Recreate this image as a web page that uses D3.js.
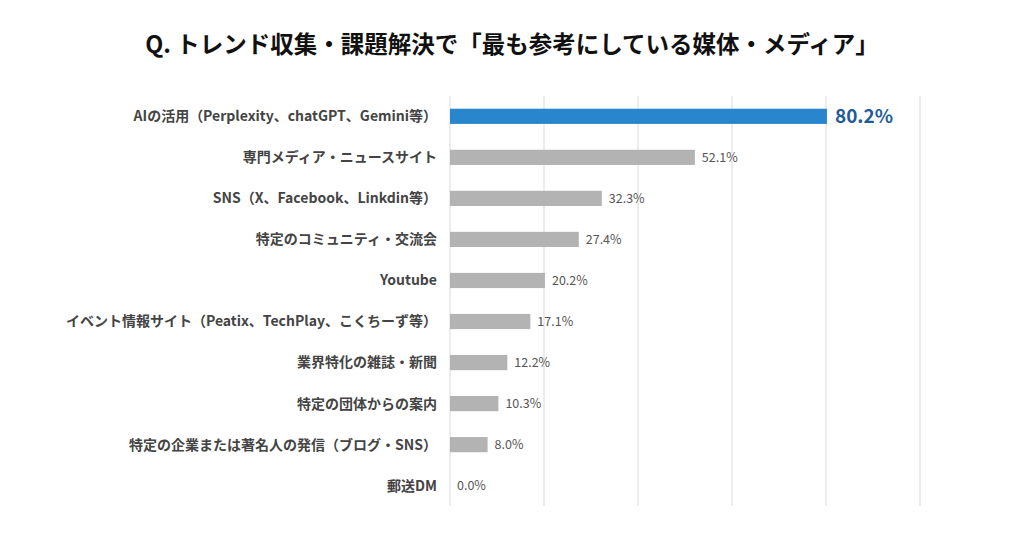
<!DOCTYPE html>
<html><head><meta charset="utf-8">
<script src="https://cdn.jsdelivr.net/npm/d3@7"></script>
<style>body{margin:0;background:#fff}text{font-family:"Noto Sans CJK JP",sans-serif}</style>
</head><body><svg id="c" width="1022" height="537"></svg>
<script>
const categories = ['AIの活用（Perplexity、chatGPT、Gemini等）','専門メディア・ニュースサイト','SNS（X、Facebook、Linkdin等）','特定のコミュニティ・交流会','Youtube','イベント情報サイト（Peatix、TechPlay、こくちーず等）','業界特化の雑誌・新聞','特定の団体からの案内','特定の企業または著名人の発信（ブログ・SNS）','郵送DM'];
const values = [80.2,52.1,32.3,27.4,20.2,17.1,12.2,10.3,8.0,0.0];
const ticks = [0,20,40,60,80,100];

const svg = d3.select('#c');
const x = d3.scaleLinear().domain([0,100]).range([450,920]);
const y = d3.scaleBand().domain(categories).range([96,506]).paddingInner(0.63).paddingOuter(0.31);

svg.append('text').attr('x',512).attr('y',53).attr('text-anchor','middle')
  .attr('font-size',23.5).attr('font-weight','bold').attr('fill','#111')
  .text('Q. トレンド収集・課題解決で「最も参考にしている媒体・メディア」');

svg.selectAll('.g').data(ticks).join('line')
  .attr('x1',d=>x(d)).attr('x2',d=>x(d)).attr('y1',96).attr('y2',506)
  .attr('stroke','#d9d9d9').attr('stroke-width',1);

svg.selectAll('.b').data(values).join('rect')
  .attr('x',x(0)).attr('y',(d,i)=>y(categories[i]))
  .attr('width',d=>x(d)-x(0)).attr('height',y.bandwidth())
  .attr('fill',(d,i)=>i===0?'#2986CC':'#B3B3B3');

svg.selectAll('.l').data(categories).join('text')
  .attr('x',437).attr('y',d=>y(d)+y.bandwidth()/2).attr('dy','0.35em')
  .attr('text-anchor','end').attr('font-size',14).attr('font-weight','bold').attr('fill','#444')
  .text(d=>d);

svg.selectAll('.v').data(values).join('text')
  .attr('x',d=>x(d)+(d===80.2?8:7)).attr('y',(d,i)=>y(categories[i])+y.bandwidth()/2).attr('dy','0.35em')
  .attr('font-size',(d,i)=>i===0?19:12.5).attr('font-weight',(d,i)=>i===0?'bold':'normal')
  .attr('fill',(d,i)=>i===0?'#1F5C99':'#555')
  .text(d=>d.toFixed(1)+'%');
</script></body></html>
